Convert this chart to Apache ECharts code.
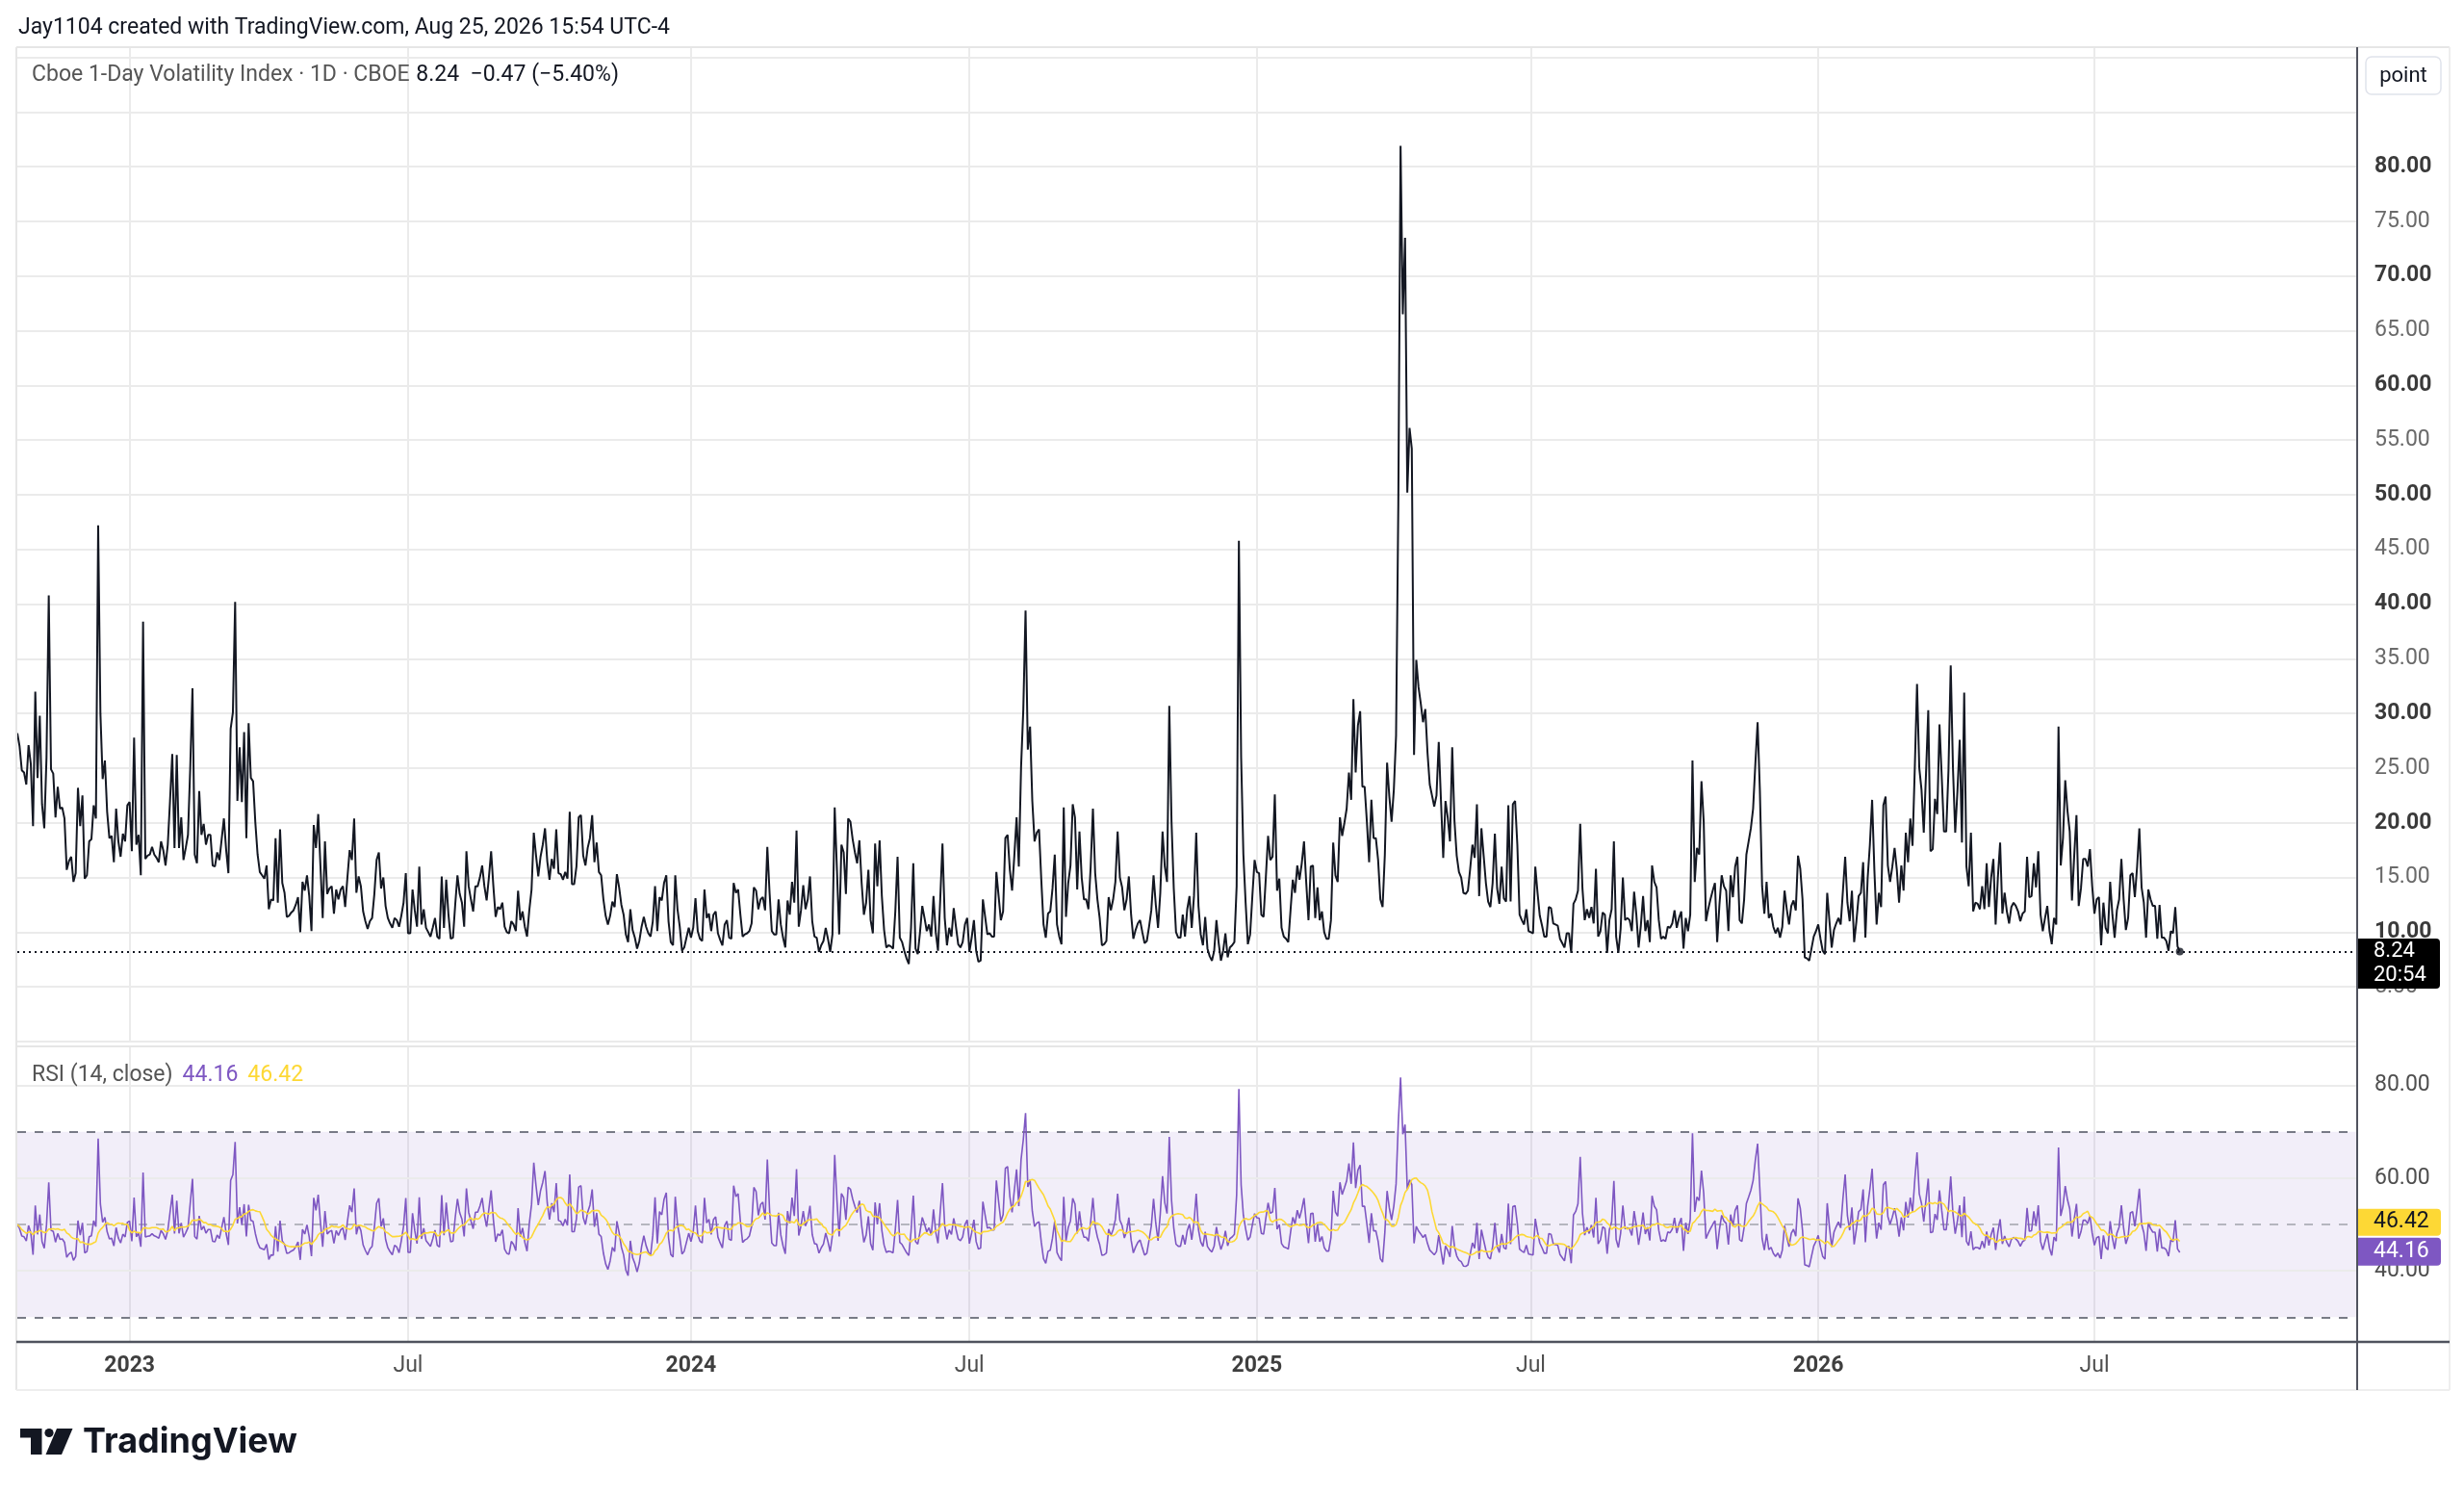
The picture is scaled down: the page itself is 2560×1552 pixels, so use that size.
<!DOCTYPE html>
<html><head><meta charset="utf-8">
<script src="https://cdn.jsdelivr.net/npm/echarts@6/dist/echarts.min.js"></script>
<style>html,body{margin:0;padding:0;background:#fff}#c{width:2560px;height:1552px}</style>
</head><body><div id="c"></div>
<script>
// ---- Daily closes of Cboe 1-Day Volatility Index, in order ----
const vixSeg1 = [28.2,27,24.8,24.6,23.5,27.1,25.4,19.7,32,24.1,29.8,21.7,19.5,26,40.8,24.9,24.5,20.5,23.3,21.3,21.4,20.4,15.7,16.5,16.9,14.6,15.4,23.2,19.7,22.5,14.9,15.2,18.3,18.5,21.6,20.4,47.2,30,24,25.7,21,18.6,18.8,16.4,21.3,18.3,16.9,19,18.3,21.6,21.9,17.4,27.8,18,18.9,15.2,38.4,16.7,17,17.1,17.8,17.1,16.8,16.4,18.3,17.5,16.1,18,22,26.3,17.7,26.2,17.7,20.5,16.6,17.7,18.9,25,32.3,17.1,16.3,22.9,18.9,19.9,18,18.9,18.9,16.1,16,17.3,16.6,18.5,20.4,17.5,15.4,28.6,30.1,40.2,22,26.9,21.9,28.3,18.6,29.1,24.1,23.8,20,17.1,15.5,15.2,14.9,16.1,12.1,13,12.9,18.6,12.7,19.4,14.5,13.6,11.4];
const vixSeg2 = [11.5,11.8,12,12.5,13.2,10,14.6,13.8,15.2,13.3,10.1,19.8,17.7,20.8,16,11.3,18.3,13.5,14,14.2,11.7,13.9,13,13.9,14.2,12.3,15,17.5,16.6,20.4,13.6,15.1,14.2,11.9,11,10.3,11,11.3,13.5,16.6,17.3,14,15,12.4,11.3,10.8,10.4,11.3,11.1,10.5,11.5,12.7,15.4,9.9,9.9,13.9,12,10.5,16,10.7,12.1,10.4,10,9.6,10.4,11.3,9.6,9.4,15.1,10.4,14.8,11.6,9.4,9.5,12.5,15.2,13.5,12.7,10.5,17.4,14.2,13,11.9,14.2,14.2,15,16.1,14.2,12.9,15,17.4,14.2,11.4,12.3,12.1,12.7,10.5,10,9.9,11,10.7,10.1,13.8,11.1,11.9,10.5,9.6,12,13.9,19.1,17,15.1,16.9,18,19.5,16.5,14.8,16.7,15.8,19.4,15.4];
const vixSeg3 = [15.3,14.8,15.5,14.9,21,14.4,14.4,16,20.5,20.7,17,16.1,17.7,18.6,20.7,16.4,18.2,15.5,15.2,13,11.5,10.7,11.5,12.8,12.3,15.3,14.1,12.5,11.6,9.8,9.1,12.1,10.2,9.5,8.5,9.2,10.5,11.4,10.5,9.9,9.6,11,14.2,10.1,13.2,12.9,14.5,15.2,11,9.1,8.8,15.2,12.1,10.5,8.3,8.6,9.5,10.4,9.5,10.4,13.1,10.1,9.4,9.2,13.9,11.3,11.7,10.1,11.6,11.9,9.9,9.3,8.8,10.7,11.1,9.5,9.4,14.5,13.6,13.9,11.6,9.6,9.8,9.9,10.1,10.8,14.1,13.8,12.1,13,13.2,12,17.8,13.6,10.1,9.8,9.8,13,10.7,9.5,8.6,12.9,11.6,14.6,12.7,19.3,10.5,12,14.3,12.1,13,15.1,11,9.6,9.5,8.2,8.8,9.2,10.4,9.4,8.2,9.8,21.4,15.7];
const vixSeg4 = [9.8,18,17.3,13.5,20.4,20.1,18.5,17.3,16.3,18.4,14.5,11.6,12.7,15.7,11.1,9.9,18.1,14.2,18.4,13.3,10.2,8.6,8.8,8.7,8.5,11.9,16.9,9.5,9.1,8.3,7.6,7.1,10.4,16.3,8.5,8,10,12.4,11.3,10.1,10.7,9.6,13.3,10,8.3,13,18.1,11.3,8.8,10.4,9.6,12.2,10.5,8.9,8.6,9.1,10.7,11.3,8.2,9.5,11.1,8.3,7.3,7.4,13,11.4,9.8,9.9,9.6,9.6,15.5,13.3,11.1,11.9,18.6,18.9,15.7,13.8,17,20.5,16,25.1,30.4,39.4,26.7,28.8,22,18.3,19.1,19.4,14.8,10.7,9.5,11.7,11.9,14,17.1,10.7,9.6,8.9,21.4,11.4,14.5,16.1,21.7,20.5,13.9,19.2,15,13,13,12.1,16,21.3,15.4,13,11.3,8.8,8.9,9.2,13.2,12,13,14.6];
const vixSeg5 = [19.2,15,14.1,12,13,15.1,11.6,9.4,10.2,10.8,11.1,10,9,9.2,10.5,12,15.2,12.5,10.4,13.6,19.2,16,14.6,30.7,20.1,14,10,9.5,9.5,11.6,9.6,12.1,13.3,10.4,13.3,19.1,12.4,9.8,8.8,11.4,8.5,7.8,7.4,8.3,11.1,9,7.4,8.3,9.9,7.7,8.6,8.8,9.1,14.2,45.8,26,17.1,12.7,8.9,9.8,13.3,16.6,15.5,15.4,11.6,11.4,15,18.8,16.6,16.9,22.6,13.8,14.9,10.4,9.6,9.4,9.1,12,14.8,13.6,16.1,14.8,16.3,18.3,14.5,11.1,16,16.1,11.3,14.1,11.1,11.9,10,9.4,9.4,11.1,18.2,15.2,14.6,20.5,18.8,20,21.3,24.6,22.1,31.3,24.6,28.9,30.2,23.3,23.3,20.1,16.4,22.1,18.6,18.6,16.6,13,12.3,17.1,25.5,22.4,20.1,23,28];
const vixSeg6 = [49.2,81.9,66.5,73.5,50.2,56.1,54.2,26.2,34.9,32.4,30.9,29.2,30.4,26.4,23.5,22.5,21.5,22.5,27.4,22,16.8,22,20.5,18.3,26.9,20.2,17,15.5,15,13.6,13.5,13.8,15.8,18,16.8,21.7,13.3,19.5,17,14.5,12.8,12.3,14.5,19,14,12.6,16,13.1,12.8,21.6,12.8,21.7,22,18,11.6,11.1,10.7,12.1,10.1,10,9.9,16,13.6,11.5,10.6,9.6,9.6,12.3,12.2,10.8,10.7,10.6,9.4,9,8.6,9.9,9.9,8.1,12.6,13,13.8,19.9,14,11.1,12.1,11.3,12.3,10.8,15.8,9.6,10.1,11.8,11.6,8.1,11.1,12.1,18.3,9.6,8.1,10.3,15,11.1,11.3,11.1,10.1,13.7,11.6,8.6,10.6,13.3,10.1,11.1,9.1,16.1,14.6,14.1,11.1,9.4,9.6,9.4];
const vixSeg7 = [10.5,10.4,10.8,12,10.4,11.3,11.9,8.5,11.3,10.1,11.6,25.7,14.6,17.7,17.1,23.8,20.1,11,12.1,13,13.8,14.5,9.1,12.5,15.2,14.2,13.8,10.1,15.2,13.2,16,16.9,11.1,10.8,13,17.1,18.3,19.5,21.3,25.4,29.2,23,14.2,11.7,14.6,11.3,11.7,10.5,9.9,10.4,9.5,10.5,13.8,12.1,10.7,12.4,12.9,12,17,15.8,13,7.7,7.6,7.4,8.5,9.6,10.1,10.7,9.4,8.3,8,13.6,11,8.6,10.2,10.8,11.3,10.7,13.8,16.9,12.7,11,13.8,9.1,11,13.3,13.6,16.4,9.5,14.9,18,22.1,15.7,10.7,13.6,12.3,21.6,22.4,16.1,14.6,16,17.7,15.7,12.7,16.1,13.8,19.1,16.4,20.4,17.9,25,32.7,25,23,19.1,24.5,30.3,17.4,17.6,22.2,20.8,29,24.2,19.2];
const vixSeg8 = [19.2,24.8,34.4,25,19.1,22.9,27.6,18.2,31.9,16,14.2,19.1,11.9,12.7,12.6,12.1,14.2,12.1,16.3,12.3,15,16.7,10.7,15,18.2,11.7,13.6,11.9,10.8,12.3,12.7,12.4,11.9,11,11.7,11.9,16.9,13.2,13.3,16.3,14.1,17.4,11.6,10.1,11.3,12.4,10.1,8.9,11.3,10.7,28.8,16.1,18.6,23.9,21.1,19.2,12.9,17,20.7,12.4,14,16.7,16.7,16,17.6,14.2,11.7,13,13.2,8.8,12.7,10.4,9.9,14.6,11.6,9.5,12,13,16.7,13,10.2,11.3,15.2,15.4,13.2,16,19.5,14.1,12.7,9.5,13.9,13,12.4,12.4,9.4,12.5,9.5,9.5,9.2,8.3,10.1,9.9,12.3,8.71,8.24];

// ---- calendar / labels ----
const lastDate = '2026-08-25';
const marketHolidays = ['2022-11-24','2022-12-26','2023-01-02','2023-01-16','2023-02-20','2023-04-07','2023-05-29','2023-06-19','2023-07-04','2023-09-04','2023-11-23','2023-12-25','2024-01-01','2024-01-15','2024-02-19','2024-03-29','2024-05-27','2024-06-19','2024-07-04','2024-09-02','2024-11-28','2024-12-25','2025-01-01','2025-01-09','2025-01-20','2025-02-17','2025-04-18','2025-05-26','2025-06-19','2025-07-04','2025-09-01','2025-11-27','2025-12-25','2026-01-01','2026-01-19','2026-02-16','2026-04-03','2026-05-25','2026-06-19','2026-07-03','2026-09-07','2026-11-26'];
const futureBars = 79;
const priceLabelValues = [5,10,15,20,25,30,35,40,45,50,55,60,65,70,75,80];
const rsiLabelValues = [40,60,80];
const rsiBand = [30,70];
const rsiMid = 50;
const rsiLength = 14;
const rsiAxisRange = [24.68, 88.4];
const priceAxisRange = [0, 90.92];
const lastClose = 8.24, lastChange = '−0.47', lastChangePct = '(−5.40%)', lastTime = '20:54';
const rsiLast = 44.16, rsiMaLast = 46.42;

const closes = [].concat(vixSeg1,vixSeg2,vixSeg3,vixSeg4,vixSeg5,vixSeg6,vixSeg7,vixSeg8);

const hol = new Set(marketHolidays);
const fmt = d => d.toISOString().slice(0,10);
const isTrading = d => { const w = d.getUTCDay(); return w !== 0 && w !== 6 && !hol.has(fmt(d)); };
const dates = [];
let cur = new Date(lastDate + 'T00:00:00Z');
while (dates.length < closes.length) { if (isTrading(cur)) dates.unshift(fmt(cur)); cur.setUTCDate(cur.getUTCDate() - 1); }
cur = new Date(lastDate + 'T00:00:00Z');
const future = [];
while (future.length < futureBars) { cur.setUTCDate(cur.getUTCDate() + 1); if (isTrading(cur)) future.push(fmt(cur)); }
const cats = dates.concat(future);
const isMark = i => i > 0 && cats[i].slice(5,7) !== cats[i-1].slice(5,7) && (cats[i].slice(5,7) === '01' || cats[i].slice(5,7) === '07');

// RSI (Wilder smoothing) of the closes, warmed up from a neutral start, and its 14-bar SMA
let seed = 0;
for (let i = 1; i <= rsiLength; i++) seed += Math.abs(closes[i] - closes[i-1]);
let au = seed / rsiLength / 2, ad = seed / rsiLength / 2;
const rsiVals = [50];
for (let i = 1; i < closes.length; i++) {
  const ch = closes[i] - closes[i-1], up = Math.max(ch, 0), dn = Math.max(-ch, 0);
  au = (au * (rsiLength - 1) + up) / rsiLength;
  ad = (ad * (rsiLength - 1) + dn) / rsiLength;
  rsiVals.push(ad === 0 ? 100 : 100 - 100 / (1 + au / ad));
}
const rsiMa = rsiVals.map((v, i) => {
  const w = rsiVals.slice(Math.max(0, i - rsiLength + 1), i + 1);
  return w.reduce((a, b) => a + b, 0) / w.length;
});

// ---- layout ----
const FONT = 'Roboto';
const PL = 18, AX = 2449, FR = 2545, TOP = 49, P0B = 1082, P1T = 1087, P1B = 1394, BOT = 1444;
const GRID = '#ebebeb';
const chart = echarts.init(document.getElementById('c'), null, {renderer: 'canvas'});

const xCommon = {
  type: 'category', data: cats, boundaryGap: false,
  axisLine: {show: false}, axisTick: {show: false},
  splitLine: {show: true, interval: (i) => isMark(i), lineStyle: {color: GRID, width: 2}}
};

chart.setOption({
  animation: false,
  backgroundColor: '#ffffff',
  textStyle: {fontFamily: FONT},
  grid: [
    {left: PL, right: 2560 - AX, top: TOP, height: P0B - TOP, outerBoundsMode: 'none'},
    {left: PL, right: 2560 - AX, top: P1T, height: P1B - P1T, outerBoundsMode: 'none'}
  ],
  xAxis: [
    Object.assign({}, xCommon, {gridIndex: 0, axisLabel: {show: false}}),
    Object.assign({}, xCommon, {gridIndex: 1, axisLabel: {
      show: true, interval: (i) => isMark(i), margin: 14, hideOverlap: false,
      formatter: v => v.slice(5,7) === '01' ? '{y|' + v.slice(0,4) + '}' : '{m|Jul}',
      rich: {y: {fontFamily: FONT, fontWeight: 'bold', fontSize: 23, color: '#3f3f3f'},
             m: {fontFamily: FONT, fontSize: 23, color: '#4f4f4f'}}
    }})
  ],
  yAxis: [
    {type: 'value', gridIndex: 0, position: 'right', min: priceAxisRange[0], max: priceAxisRange[1], interval: 5,
     axisLine: {show: false}, axisTick: {show: false},
     splitLine: {show: true, lineStyle: {color: GRID, width: 2}},
     axisLabel: {margin: 18, formatter: v => priceLabelValues.indexOf(v) < 0 ? '' : (v % 10 === 0 ? '{b|' + v.toFixed(2) + '}' : '{n|' + v.toFixed(2) + '}'),
       rich: {b: {fontFamily: FONT, fontWeight: 'bold', fontSize: 23, color: '#3a3a3a'},
              n: {fontFamily: FONT, fontSize: 23, color: '#6a6a6a'}}}},
    {type: 'value', gridIndex: 1, position: 'right', min: rsiAxisRange[0], max: rsiAxisRange[1],
     axisLine: {show: false}, axisTick: {show: false}, splitLine: {show: false},
     axisLabel: {margin: 18, customValues: rsiLabelValues, formatter: v => v.toFixed(2), fontFamily: FONT, fontSize: 23, color: '#4f4f4f'}}
  ],
  series: [
    {type: 'line', name: 'VIX1D', xAxisIndex: 0, yAxisIndex: 0, data: closes, showSymbol: false, symbol: 'none',
     lineStyle: {color: '#131722', width: 2}, z: 5, silent: true,
     markLine: {silent: true, symbol: ['none','none'], label: {show: false},
       data: [{yAxis: lastClose, lineStyle: {color: '#131722', width: 2, type: [2, 4]}}]}},
    {type: 'scatter', xAxisIndex: 0, yAxisIndex: 0, data: [[closes.length - 1, closes[closes.length - 1]]],
     symbolSize: 8, itemStyle: {color: '#131722'}, z: 6, silent: true},
    {type: 'line', name: 'RSI', xAxisIndex: 1, yAxisIndex: 1, data: rsiVals, showSymbol: false, symbol: 'none',
     lineStyle: {color: '#7e57c2', width: 1.6}, z: 5, silent: true,
     markArea: {silent: true, itemStyle: {color: 'rgba(126,87,194,0.1)'}, data: [[{yAxis: rsiBand[0]}, {yAxis: rsiBand[1]}]]},
     markLine: {silent: true, symbol: ['none','none'], label: {show: false},
       data: rsiLabelValues.map(v => ({yAxis: v, lineStyle: {color: GRID, width: 2, type: 'solid'}})).concat([
         {yAxis: rsiBand[1], lineStyle: {color: '#787b86', width: 2, type: [9, 9]}},
         {yAxis: rsiBand[0], lineStyle: {color: '#787b86', width: 2, type: [9, 9]}},
         {yAxis: rsiMid, lineStyle: {color: 'rgba(120,123,134,0.5)', width: 2, type: [9, 9]}}
       ])}},
    {type: 'line', name: 'RSI MA', xAxisIndex: 1, yAxisIndex: 1, data: rsiMa, showSymbol: false, symbol: 'none',
     lineStyle: {color: '#fdd835', width: 1.6}, z: 6, silent: true}
  ]
});

// ---- overlays placed through the library's scales ----
const yLast = chart.convertToPixel({yAxisIndex: 0}, lastClose);
const yRsi = chart.convertToPixel({yAxisIndex: 1}, rsiLast);
const line = (x1, y1, x2, y2, c, w) => ({type: 'line', silent: true, z: 50, shape: {x1, y1, x2, y2}, style: {stroke: c, lineWidth: w}});
const txt = (x, y, text, font, fill, align) => ({type: 'text', silent: true, z: 60, x, y, style: {text, font, fill, align: align || 'left', verticalAlign: 'middle'}});
const pBoxTop = yRsi - 14.5, yBoxBottom = pBoxTop - 2;
const rt = (size, fill, weight) => ({fontFamily: FONT, fontSize: size, fill: fill, fontWeight: weight || 'normal'});

chart.setOption({graphic: [
  txt(19, 29, 'Jay1104 created with TradingView.com, Aug 25, 2026 15:54 UTC-4', '23px ' + FONT, '#131722'),
  line(PL - 1, TOP, FR, TOP, '#e6e6e6', 2),
  line(PL - 1, TOP, PL - 1, BOT, '#e6e6e6', 2),
  line(FR, TOP, FR, BOT, '#eeeeee', 2),
  line(PL - 1, BOT, FR, BOT, '#eeeeee', 2),
  line(PL, P1T, AX, P1T, '#e6e6e6', 2),
  line(AX, TOP, AX, BOT, '#50535e', 2),
  line(PL - 1, P1B, FR, P1B, '#50535e', 2.5),
  {type: 'text', silent: true, z: 60, x: 33, y: 78, style: {
    text: '{g|Cboe 1-Day Volatility Index · 1D · CBOE}  {k|' + lastClose.toFixed(2) + '  ' + lastChange + ' ' + lastChangePct + '}',
    verticalAlign: 'middle',
    rich: {g: rt(23, '#555555'), k: rt(23, '#131722')}}},
  {type: 'text', silent: true, z: 60, x: 33, y: 1117, style: {
    text: '{g|RSI (14, close)}   {p|' + rsiLast.toFixed(2) + '}   {y|' + rsiMaLast.toFixed(2) + '}',
    verticalAlign: 'middle',
    rich: {g: rt(23, '#555555'), p: rt(23, '#7e57c2'), y: rt(23, '#fdd835')}}},
  {type: 'rect', silent: true, z: 55, shape: {x: 2458, y: 59, width: 78, height: 39, r: 6}, style: {fill: '#ffffff', stroke: '#e0e3eb', lineWidth: 1.5}},
  txt(2497, 79, 'point', '22px ' + FONT, '#131722', 'center'),
  // last price label
  {type: 'rect', silent: true, z: 70, shape: {x: AX + 1, y: yLast - 13.5, width: 85, height: 52, r: [0, 4, 4, 0]}, style: {fill: '#000000'}},
  Object.assign(txt(2466, yLast, lastClose.toFixed(2), '22px ' + FONT, '#ffffff'), {z: 71}),
  Object.assign(txt(2466, yLast + 25, lastTime, '22px ' + FONT, '#ffffff'), {z: 71}),
  // RSI labels
  {type: 'rect', silent: true, z: 70, shape: {x: AX + 1, y: pBoxTop, width: 86, height: 29, r: [0, 4, 4, 0]}, style: {fill: '#7e57c2'}},
  Object.assign(txt(2466, yRsi, rsiLast.toFixed(2), '23px ' + FONT, '#ffffff'), {z: 71}),
  {type: 'rect', silent: true, z: 70, shape: {x: AX + 1, y: yBoxBottom - 28, width: 86, height: 28, r: [0, 4, 4, 0]}, style: {fill: '#fdd835'}},
  Object.assign(txt(2466, yBoxBottom - 14, rsiMaLast.toFixed(2), '23px ' + FONT, '#131722'), {z: 71}),
  // TradingView logo
  {type: 'polygon', silent: true, z: 60, shape: {points: [[21,1484],[43.5,1484],[43.5,1511],[32,1511],[32,1493.5],[21,1493.5]]}, style: {fill: '#131722'}},
  {type: 'circle', silent: true, z: 60, shape: {cx: 51, cy: 1488.5, r: 4.6}, style: {fill: '#131722'}},
  {type: 'polygon', silent: true, z: 60, shape: {points: [[59,1484],[75.5,1484],[64,1511],[47.5,1511]]}, style: {fill: '#131722'}},
  txt(86, 1498, 'TradingView', 'bold 36px Inter', '#131722')
]});
</script></body></html>
